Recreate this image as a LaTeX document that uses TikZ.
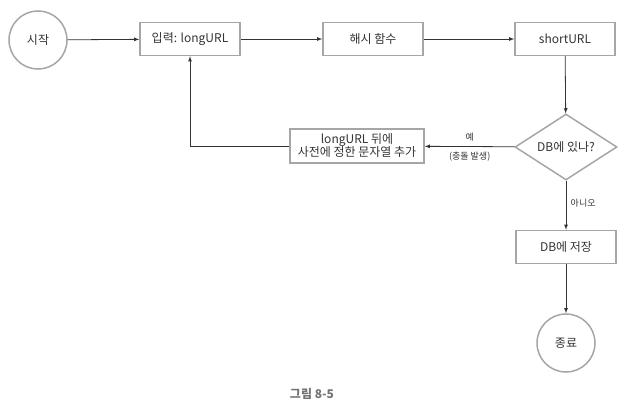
\documentclass[tikz,border=0pt]{standalone}
\usepackage{fontspec}
\setmainfont{Noto Sans CJK KR}
\usetikzlibrary{shapes.geometric}
\colorlet{edgegray}{black!35}
\colorlet{inkgray}{black!80}

\begin{document}
\begin{tikzpicture}[
        x=1pt, y=-1pt,
        font=\fontsize{12}{14}\selectfont, text=inkgray,
        term/.style={circle, draw=edgegray, line width=1.5pt, minimum size=58pt, inner sep=0pt},
        proc/.style={rectangle, draw=edgegray, line width=1.5pt, minimum width=100pt, minimum height=33pt, inner sep=2pt, align=center},
        ask/.style={diamond, draw=edgegray, line width=1.5pt, minimum width=102pt, minimum height=66pt, aspect=2, inner sep=0pt},
        flow/.style={draw=inkgray, line width=0.8pt, -latex},
        tag/.style={font=\fontsize{9}{10}\selectfont}
    ]
    \useasboundingbox (0,0) rectangle (624,404);
    % main row
    \node[term] (start) at (38,40) {시작};
    \node[proc] (input) at (190,39) {입력: longURL};
    \node[proc] (hash) at (373,39) {해시 함수};
    \node[proc] (short) at (565,39) {shortURL};
    % check and retry
    \node[ask] (indb) at (566,147) {DB에 있나?};
    \node[proc, minimum width=134pt, minimum height=34pt, inner sep=1pt, font=\fontsize{12}{13}\selectfont] (retry) at (357,146) {longURL 뒤에\\사전에 정한 문자열 추가};
    % store and stop
    \node[proc] (save) at (566,247) {DB에 저장};
    \node[term] (stop) at (566,343) {종료};

    \draw[flow] (start) -- (input);
    \draw[flow] (input) -- (hash);
    \draw[flow] (hash) -- (short);
    \draw[flow] (short) -- (indb);
    \draw[flow] (indb) -- node[tag, above=2pt] {예} node[tag, below=2pt] {(충돌 발생)} (retry);
    \draw[flow] (retry.west) -| (input.south);
    \draw[flow] (indb) -- node[tag, right=1pt, pos=0.45] {아니오} (save);
    \draw[flow] (save) -- (stop);

    \node[font=\bfseries\fontsize{12}{14}\selectfont, text=black!55] (caption) at (312,394) {그림 8-5};
\end{tikzpicture}
\end{document}
